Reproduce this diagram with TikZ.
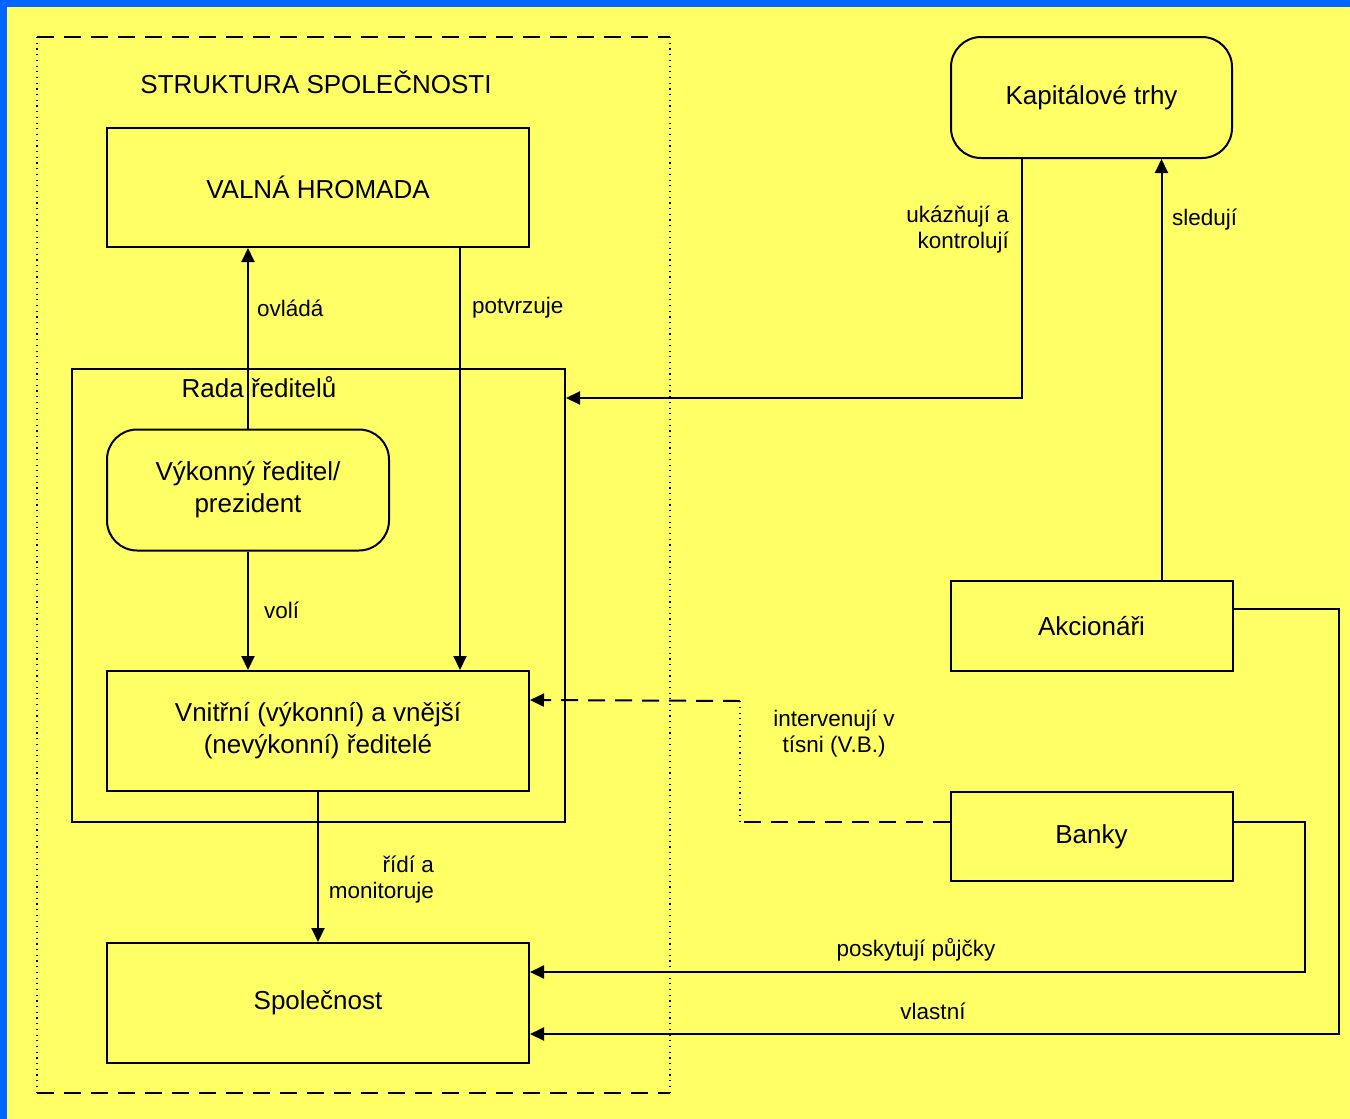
\documentclass[tikz,border=0pt]{standalone}
\usepackage{fontspec}
\setmainfont{Liberation Sans}
\definecolor{bgyellow}{RGB}{255,255,102}
\definecolor{bgblue}{RGB}{0,102,255}
\usetikzlibrary{positioning,arrows.meta,calc}

\begin{document}
\begin{tikzpicture}[x=1pt,y=-1pt,
  line width=2pt,
  >={Triangle[length=14pt,width=13pt]},
  box/.style={draw,rectangle,inner sep=0pt,align=center,font=\fontsize{26}{32}\selectfont},
  roundbox/.style={box,rounded corners=30pt},
  heading/.style={inner sep=0pt,font=\fontsize{26}{32}\selectfont},
  lbl/.style={inner sep=0pt,align=center,font=\fontsize{22.5}{26}\selectfont},
  dashline/.style={dash pattern=on 17pt off 10pt},
  dotline/.style={line width=1.2pt,dash pattern=on 1.2pt off 4.5pt}
]

% Background
\useasboundingbox (0,0) rectangle (1350,1119);
\fill[bgblue] (0,0) rectangle (1350,1119);
\fill[bgyellow] (7,7) rectangle (1350,1119);

% Company frame
\draw[dashline] (37,37) -- (670,37);
\draw[dashline] (37,1093) -- (670,1093);
\draw[dotline] (37,37) -- (37,1093);
\draw[dotline] (670,37) -- (670,1093);
\node[heading] (title) at (316,82) {STRUKTURA SPOLEČNOSTI};

% Company boxes
\node[box,minimum width=422pt,minimum height=119pt] (valna) at (318,187.5) {VALNÁ HROMADA};
\node[box,minimum width=493pt,minimum height=453pt] (rada) at (318.5,595.5) {};
\node[heading] (radalbl) at (259,387) {Rada ředitelů};
\node[roundbox,minimum width=282pt,minimum height=121pt] (vykonny) at (248,490) {Výkonný ředitel/\\prezident};
\node[box,minimum width=422pt,minimum height=120pt] (vnitrni) at (318,731) {Vnitřní (výkonní) a vnější\\(nevýkonní) ředitelé};
\node[box,minimum width=422pt,minimum height=120pt] (spolecnost) at (318,1003) {Společnost};

% Outside boxes
\node[roundbox,minimum width=281pt,minimum height=121pt] (kapital) at (1091.5,97.5) {Kapitálové trhy};
\node[box,minimum width=282pt,minimum height=90pt] (akcionari) at (1091.5,626) {Akcionáři};
\node[box,minimum width=282pt,minimum height=89pt] (banky) at (1091.5,836.5) {Banky};

% Edges
\draw[->] (vykonny.north) -- (vykonny.north |- valna.south);
\draw[->] ([xshift=-70pt]valna.south east) -- ([xshift=-70pt]valna.south east |- vnitrni.north);
\draw[->] (vykonny.south) -- (vykonny.south |- vnitrni.north);
\draw[->] (vnitrni.south) -- (vnitrni.south |- spolecnost.north);
\draw[->] ([xshift=-70pt]kapital.south) |- ([yshift=-30pt]rada.north east);
\draw[->] ([xshift=70pt]akcionari.north) -- ([xshift=70pt]kapital.south);
\coordinate (bend1) at (740,822);
\coordinate (bend2) at (740,701);
\draw[dashline] ([yshift=14.5pt]banky.west) -- (bend1);
\draw[dotline] (bend1) -- (bend2);
\draw[dashline,->] (bend2) -- ([yshift=-30pt]vnitrni.north east);
\draw[->] ([yshift=14.5pt]banky.east) -- ++(71,0) |- ([yshift=-30pt]spolecnost.north east);
\draw[->] ([yshift=-29pt]akcionari.north east) -- ++(105,0) |- ([yshift=30pt]spolecnost.south east);

% Labels
\node[lbl,anchor=west] (ovlada) at (256,308) {ovládá};
\node[lbl,anchor=west] (potvrzuje) at (471,308) {potvrzuje};
\node[lbl,anchor=west] (voli) at (263,610) {volí};
\node[lbl,anchor=east,align=right] (ridi) at (435,880) {řídí a\\monitoruje};
\node[lbl,anchor=east,align=right] (ukaznuji) at (1010,230) {ukázňují a\\kontrolují};
\node[lbl,anchor=west] (sleduji) at (1171,220) {sledují};
\node[lbl] (interv) at (834,734) {intervenují v\\tísni (V.B.)};
\node[lbl] (pujcky) at (916,950) {poskytují půjčky};
\node[lbl] (vlastni) at (933,1011) {vlastní};
\end{tikzpicture}
\end{document}
